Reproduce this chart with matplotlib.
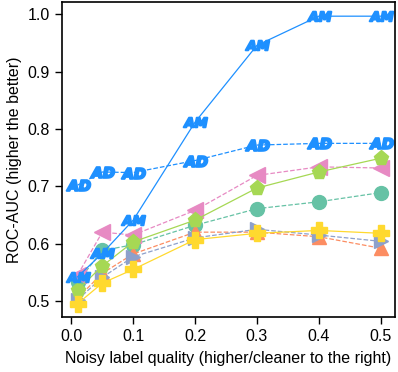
import numpy as np
from matplotlib import pyplot as plt

plt.rcParams['font.family'] = ['Liberation Sans', 'DejaVu Sans']

# noisy label quality levels
quality = [0.01, 0.05, 0.1, 0.2, 0.3, 0.4, 0.5]

auc_am = [0.542, 0.583, 0.641, 0.812, 0.946, 0.997, 0.997]
auc_ad = [0.702, 0.725, 0.724, 0.745, 0.772, 0.775, 0.775]
auc_circle = [0.533, 0.588, 0.598, 0.632, 0.661, 0.673, 0.689]
auc_tri_up = [0.505, 0.548, 0.582, 0.620, 0.620, 0.612, 0.592]
auc_tri_right = [0.502, 0.541, 0.577, 0.610, 0.625, 0.615, 0.604]
auc_tri_left = [0.545, 0.620, 0.615, 0.658, 0.719, 0.734, 0.732]
auc_pentagon = [0.519, 0.561, 0.603, 0.641, 0.697, 0.725, 0.749]
auc_plus = [0.495, 0.531, 0.555, 0.607, 0.618, 0.623, 0.618]

fig, ax = plt.subplots(figsize=(3.98, 3.72), dpi=100)

blue = '#1e90ff'
ax.plot(quality, auc_circle, '--', color='#66c2a5', marker='o', markersize=10, lw=0.9)
ax.plot(quality, auc_tri_up, '--', color='#fc8d62', marker='^', markersize=10, lw=0.9)
ax.plot(quality, auc_tri_right, '--', color='#8da0cb', marker='>', markersize=10, lw=0.9)
ax.plot(quality, auc_tri_left, '--', color='#e78ac3', marker='<', markersize=11, lw=0.9)
ax.plot(quality, auc_pentagon, '-', color='#a6d854', marker='p', markersize=11, lw=0.9)
ax.plot(quality, auc_plus, '-', color='#ffd92f', marker='P', markersize=11, lw=0.9)
ax.plot(quality, auc_ad, '--', color=blue, marker=r'$\mathbfit{AD}$', markersize=17,
        markeredgewidth=1.5, lw=0.9)
ax.plot(quality, auc_am, '-', color=blue, marker=r'$\mathbfit{AM}$', markersize=17,
        markeredgewidth=1.5, lw=0.9)

ax.set_xlim(-0.015, 0.523)
ax.set_ylim(0.472, 1.022)
ax.set_xticks([0.0, 0.1, 0.2, 0.3, 0.4, 0.5])
ax.set_yticks([0.5, 0.6, 0.7, 0.8, 0.9, 1.0])
ax.tick_params(direction='out', length=5, width=1, pad=4, labelsize=11.5)
for s in ax.spines.values():
    s.set_linewidth(1.2)
ax.set_xlabel('Noisy label quality (higher/cleaner to the right)', fontsize=11.5, labelpad=5)
ax.set_ylabel('ROC-AUC (higher the better)', fontsize=11.5, labelpad=4)

plt.subplots_adjust(left=0.156, right=0.992, top=0.995, bottom=0.148)
plt.savefig('out.png')
